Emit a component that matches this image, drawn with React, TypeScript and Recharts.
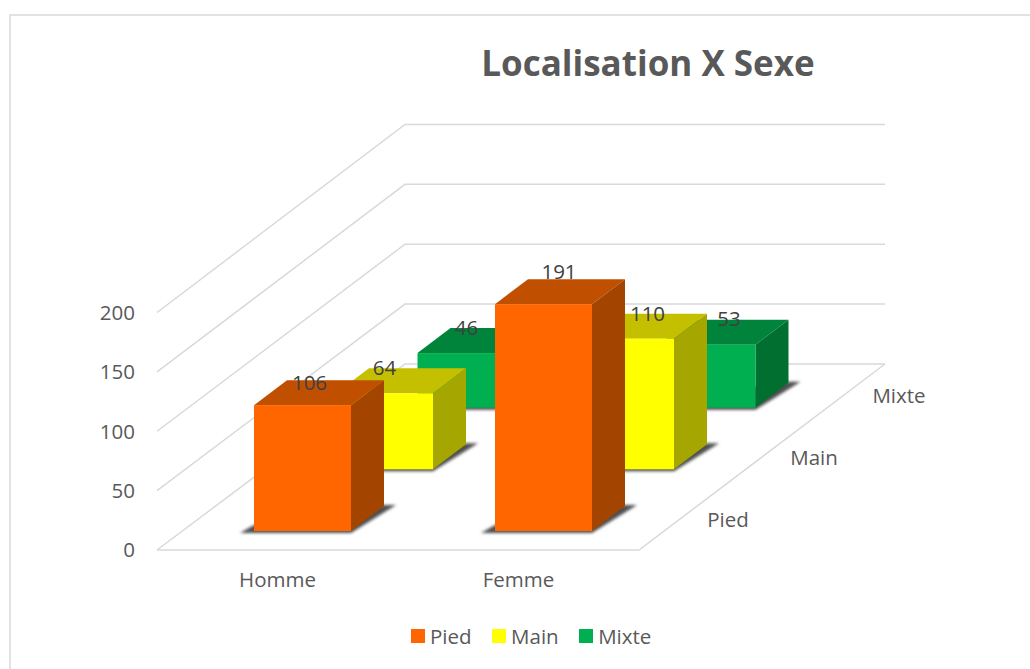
// App.tsx
import { BarChart, Bar, XAxis, YAxis, Legend, LabelList, usePlotArea } from 'recharts';

const CATEGORIES = ['Homme', 'Femme'];
const SERIES = ['Pied', 'Main', 'Mixte'];
const PIED = [106, 191];
const MAIN = [64, 110];
const MIXTE = [46, 53];
const Y_TICKS = [0, 50, 100, 150, 200];

const data = CATEGORIES.map((sexe, i) => ({ sexe, Pied: PIED[i], Main: MAIN[i], Mixte: MIXTE[i] }));

const FONT = '"Open Sans", sans-serif';
const GRID = '#d9d9d9';
const TEXT = '#595959';
const LABEL = '#404040';
const FONT_SIZE = 20.5;
const BAR_W = 97;
const DEPTH_X = 33;
const DEPTH_Y = 25;

// how each row sits on the floor, and its face colours
const PIED_STYLE = { dx: 25, dy: -19, front: '#ff6600', top: '#c05000', side: '#a34400', labels: [[7, -23], [15.5, -33]] };
const MAIN_STYLE = { dx: 107, dy: -80.7, front: '#ffff00', top: '#c4c000', side: '#a6a600', labels: [[0, -26], [22, -26]] };
const MIXTE_STYLE = { dx: 188.5, dy: -142.3, front: '#00b050', top: '#00843c', side: '#006f30', labels: [[0.5, -26], [22, -27]] };

const box = (s: typeof PIED_STYLE) => (props: any) => {
    const x = props.x + s.dx;
    const y = props.y + s.dy;
    const w = props.width;
    const h = props.height;
    const b = y + h;
    return (
        <g>
            <polygon
                points={`${x - 14},${b + 2} ${x},${b - 6} ${x + w + DEPTH_X},${b - DEPTH_Y - 1} ${x + w + DEPTH_X + 12},${b - DEPTH_Y - 1} ${x + w},${b + 2}`}
                fill="#505050"
                filter="url(#soft)"
            />
            <polygon points={`${x},${y} ${x + DEPTH_X},${y - DEPTH_Y} ${x + w + DEPTH_X},${y - DEPTH_Y} ${x + w},${y}`} fill={s.top} />
            <polygon points={`${x + w},${y} ${x + w + DEPTH_X},${y - DEPTH_Y} ${x + w + DEPTH_X},${b - DEPTH_Y} ${x + w},${b}`} fill={s.side} />
            <rect x={x} y={y} width={w} height={h} fill={s.front} />
        </g>
    );
};

const valueLabel = (s: typeof PIED_STYLE) => (props: any) => {
    const off = s.labels[props.index];
    return (
        <text
            x={props.x + props.width / 2 + s.dx + off[0]}
            y={props.y + s.dy + off[1]}
            textAnchor="middle"
            dominantBaseline="central"
            fontFamily={FONT}
            fontSize={FONT_SIZE}
            fill={LABEL}
        >
            {props.value}
        </text>
    );
};

// walls and floor of the 3D box, drawn from the plot area of the value axis
const Walls = () => {
    const plot = usePlotArea();
    if (!plot) return null;
    const left = plot.x;
    const right = plot.x + plot.width;
    const bottom = plot.y + plot.height;
    const backX = left + 248;
    const backY = bottom - 186;
    const yFront = (t: number) => bottom - (t / 200) * plot.height;
    const yBack = (t: number) => backY - t * 1.198;
    const line = { stroke: GRID, strokeWidth: 1.5, fill: 'none' };
    return (
        <g>
            <defs>
                <filter id="soft" x="-20%" y="-50%" width="140%" height="200%">
                    <feGaussianBlur stdDeviation="1.8" />
                </filter>
            </defs>
            {Y_TICKS.map((t) => (
                <polyline key={t} {...line} points={`${left},${yFront(t)} ${backX},${yBack(t)} ${backX + 480},${yBack(t)}`} />
            ))}
            <polyline {...line} points={`${left},${bottom} ${right},${bottom} ${backX + 480},${backY}`} />
        </g>
    );
};

const AxisDepth = () => (
    <g fontFamily={FONT} fontSize={FONT_SIZE} fill={TEXT} textAnchor="middle" dominantBaseline="central">
        <text x={728} y={519}>{SERIES[0]}</text>
        <text x={814} y={457}>{SERIES[1]}</text>
        <text x={899} y={395}>{SERIES[2]}</text>
    </g>
);

const LegendBox = ({ payload }: any) => (
    <div style={{ display: 'flex', alignItems: 'center', fontFamily: FONT, fontSize: FONT_SIZE, color: TEXT, lineHeight: '24px' }}>
        {SERIES.map((name) => {
            const item = (payload || []).find((p: any) => p.value === name);
            return (
                <span key={name} style={{ display: 'flex', alignItems: 'center', marginRight: 20.5 }}>
                    <span style={{ width: 14, height: 14, background: item?.color, marginRight: 5 }} />
                    {name}
                </span>
            );
        })}
    </div>
);

const App = () => {
    return (
        <div style={{ position: 'absolute', left: 0, top: 0, width: 1030, height: 669, background: '#fff', overflow: 'hidden' }}>
            <BarChart
                width={1030}
                height={669}
                data={data}
                barSize={BAR_W}
                barGap={-BAR_W}
                margin={{ top: 312.5, right: 391, bottom: 89, left: 0 }}
            >
                <polyline points="10,669 10,15 1030,15" fill="none" stroke={GRID} strokeWidth={1.5} />
                <text x={648} y={76} textAnchor="middle" fontFamily={FONT} fontWeight={700} fontSize={35} fill={TEXT}>
                    Localisation X Sexe
                </text>
                <Walls />
                <XAxis
                    dataKey="sexe"
                    axisLine={false}
                    tickLine={false}
                    tickSize={0}
                    tickMargin={22}
                    tick={{ fontFamily: FONT, fontSize: FONT_SIZE, fill: TEXT }}
                />
                <YAxis
                    width={157}
                    domain={[0, 200]}
                    ticks={Y_TICKS}
                    axisLine={false}
                    tickLine={false}
                    tickSize={0}
                    tickMargin={22}
                    tick={{ fontFamily: FONT, fontSize: FONT_SIZE, fill: TEXT }}
                />
                <Bar dataKey="Mixte" fill={MIXTE_STYLE.front} shape={box(MIXTE_STYLE)} isAnimationActive={false}>
                    <LabelList dataKey="Mixte" content={valueLabel(MIXTE_STYLE)} />
                </Bar>
                <Bar dataKey="Main" fill={MAIN_STYLE.front} shape={box(MAIN_STYLE)} isAnimationActive={false}>
                    <LabelList dataKey="Main" content={valueLabel(MAIN_STYLE)} />
                </Bar>
                <Bar dataKey="Pied" fill={PIED_STYLE.front} shape={box(PIED_STYLE)} isAnimationActive={false}>
                    <LabelList dataKey="Pied" content={valueLabel(PIED_STYLE)} />
                </Bar>
                <AxisDepth />
                <Legend
                    verticalAlign="middle"
                    align="center"
                    content={<LegendBox />}
                    wrapperStyle={{ left: 411, top: 624, width: 320 }}
                />
            </BarChart>
        </div>
    );
};

export default App;
